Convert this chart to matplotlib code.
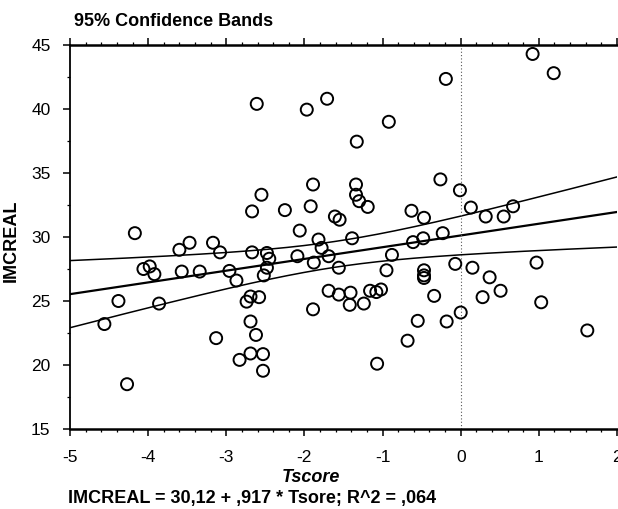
import numpy as np
import matplotlib
matplotlib.use('Agg')
import matplotlib.pyplot as plt
from matplotlib.ticker import MultipleLocator

plt.rcParams['font.family'] = ['Liberation Sans', 'DejaVu Sans']
plt.rcParams['axes.unicode_minus'] = False

# data (Tscore, IMCREAL)
tscore = [-4.56, -4.38, -4.27, -4.17, -4.06, -3.98, -3.92, -3.86, -3.60, -3.57,
          -3.47, -3.34, -3.17, -3.08, -3.13, -2.96, -2.87, -2.83, -2.74, -2.69,
          -2.58, -2.69, -2.62, -2.69, -2.53, -2.53, -2.67, -2.48, -2.45, -2.48,
          -2.52, -2.67, -2.61, -2.55, -2.25, -2.09, -2.06, -1.97, -1.92, -1.89,
          -1.88, -1.89, -1.82, -1.78, -1.71, -1.69, -1.69, -1.61, -1.55, -1.56,
          -1.56, -1.41, -1.42, -1.39, -1.34, -1.34, -1.30, -1.33, -1.19, -1.24,
          -1.16, -1.08, -1.02, -1.07, -0.95, -0.92, -0.88, -0.68, -0.63, -0.61,
          -0.55, -0.48, -0.47, -0.47, -0.47, -0.47, -0.34, -0.26, -0.23, -0.19,
          -0.18, -0.07, -0.01, 0.00, 0.13, 0.15, 0.28, 0.32, 0.37, 0.51,
          0.55, 0.67, 0.92, 0.97, 1.03, 1.19, 1.62]
imcreal = [23.2, 25.0, 18.5, 30.3, 27.5, 27.7, 27.1, 24.8, 29.0, 27.3,
           29.55, 27.3, 29.55, 28.8, 22.1, 27.35, 26.6, 20.4, 24.95, 25.35,
           25.3, 23.4, 22.35, 20.9, 20.85, 19.55, 28.8, 28.75, 28.3, 27.6,
           27.0, 32.0, 40.4, 33.3, 32.1, 28.5, 30.5, 39.95, 32.4, 34.1,
           28.0, 24.35, 29.8, 29.15, 40.8, 28.5, 25.8, 31.6, 31.35, 27.6,
           25.5, 25.65, 24.7, 29.9, 34.1, 33.3, 32.8, 37.45, 32.35, 24.8,
           25.8, 25.7, 25.9, 20.1, 27.4, 39.0, 28.6, 21.9, 32.05, 29.6,
           23.45, 29.9, 31.5, 27.4, 27.0, 26.8, 25.4, 34.5, 30.3, 42.35,
           23.4, 27.9, 33.65, 24.1, 32.3, 27.6, 25.3, 31.6, 26.85, 25.8,
           31.6, 32.4, 44.3, 28.0, 24.9, 42.8, 22.7]

# fit as printed under the chart
intercept = 30.12
slope = 0.917

x = np.array(tscore)
y = np.array(imcreal)
n = len(x)
resid = y - (intercept + slope * x)
s = np.sqrt(np.sum(resid**2) / (n - 2))
sxx = np.sum((x - x.mean())**2)
tval = 1.985

xs = np.linspace(-5, 2, 200)
fit = intercept + slope * xs
half = tval * s * np.sqrt(1.0 / n + (xs - x.mean())**2 / sxx)

fig = plt.figure(figsize=(6.18, 5.09), dpi=100)
ax = fig.add_axes([70/618, 1 - 429/509, 547/618, 384/509])

ax.plot(xs, fit, color='black', lw=1.6)
ax.plot(xs, fit + half, color='black', lw=1.1)
ax.plot(xs, fit - half, color='black', lw=1.1)
ax.axvline(0, color='#555555', lw=0.8, ls=(0, (1, 2)))
ax.scatter(x, y, s=75, facecolors='none', edgecolors='black', linewidths=1.4, zorder=3)

ax.set_xlim(-5, 2)
ax.set_ylim(15, 45)
ax.xaxis.set_major_locator(MultipleLocator(1))
ax.xaxis.set_minor_locator(MultipleLocator(0.2))
ax.yaxis.set_major_locator(MultipleLocator(5))
ax.yaxis.set_minor_locator(MultipleLocator(2.5))
ax.tick_params(axis='x', which='both', direction='out', top=True, labeltop=False)
ax.tick_params(which='major', length=5, width=1.1, labelsize=12.5)
ax.tick_params(which='minor', length=2.5, width=0.9)
ax.tick_params(axis='x', pad=10)
ax.tick_params(axis='y', pad=9)

for side in ['top', 'bottom']:
    ax.spines[side].set_linewidth(1.8)
ax.spines['left'].set_linewidth(1.3)
ax.spines['right'].set_visible(False)

ax.set_ylabel('IMCREAL', fontsize=13, fontweight='bold')
ax.yaxis.set_label_coords(-0.0914, 0.49)
fig.text(311/618, 1 - 478/509, 'Tscore', fontsize=13, fontweight='bold',
         fontstyle='italic', ha='center', va='center')
fig.text(68/618, 1 - 498/509, 'IMCREAL = 30,12 + ,917 * Tsore; R^2 = ,064',
         fontsize=13, fontweight='bold', ha='left', va='center')
fig.text(74/618, 1 - 22/509, '95% Confidence Bands', fontsize=13,
         fontweight='bold', ha='left', va='center')

fig.savefig('out.png', dpi=100)
